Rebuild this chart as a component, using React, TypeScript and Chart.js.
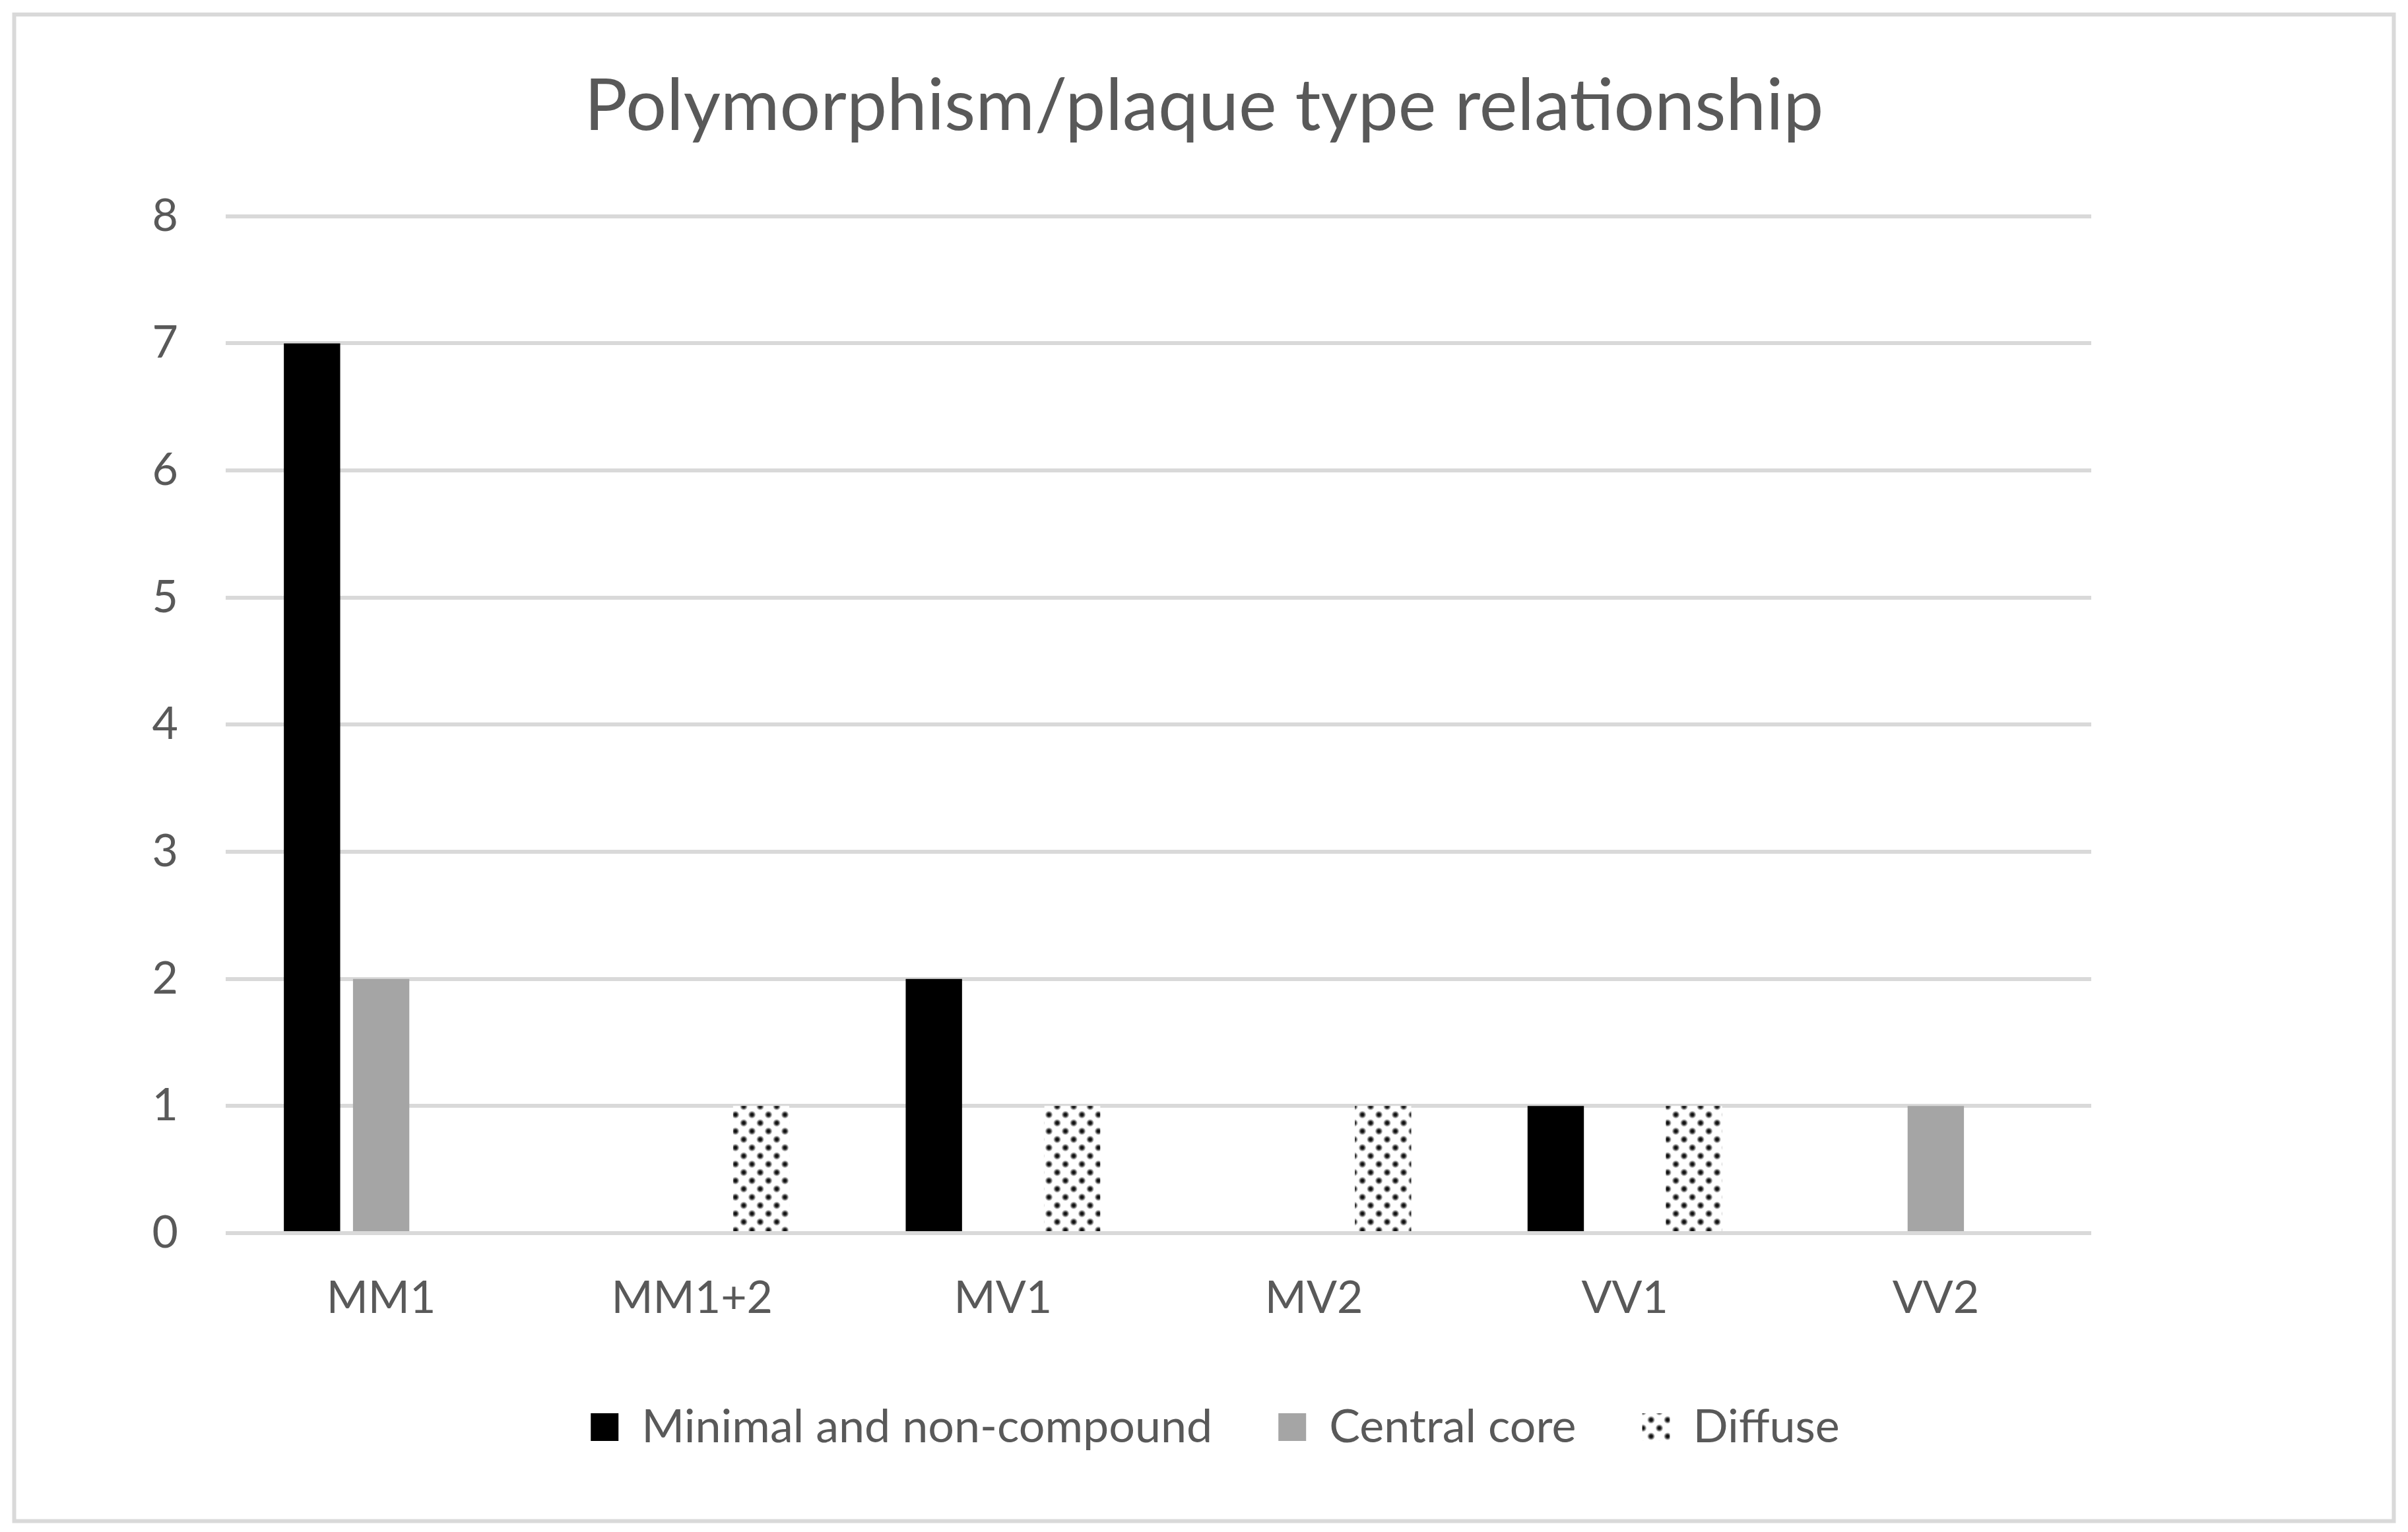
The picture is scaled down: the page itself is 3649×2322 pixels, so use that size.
import React, { useEffect, useRef } from "react";
import { Chart, registerables } from "chart.js";

Chart.register(...registerables);

const titleText = "Polymorphism/plaque type relationship";
const categories = ["MM1", "MM1+2", "MV1", "MV2", "VV1", "VV2"];
const seriesNames = ["Minimal and non-compound", "Central core", "Diffuse"];
const minimalValues = [7, 0, 2, 0, 1, 0];
const centralCoreValues = [2, 0, 0, 0, 0, 1];
const diffuseValues = [0, 1, 1, 1, 1, 0];
const yTickValues = [0, 1, 2, 3, 4, 5, 6, 7, 8];

const TEXT_COLOR = "#595959";
const GRID_COLOR = "#d9d9d9";
const FONT = "Lato, 'Open Sans', sans-serif";

function makeDotPattern(ctx: CanvasRenderingContext2D) {
  const size = 25;
  const c = document.createElement("canvas");
  c.width = size;
  c.height = size;
  const g = c.getContext("2d")!;
  g.fillStyle = "#ffffff";
  g.fillRect(0, 0, size, size);
  const dots: [number, number][] = [
    [6.5, 6.5],
    [19, 19],
  ];
  for (const [x, y] of dots) {
    const r = 6.5;
    const grad = g.createRadialGradient(x, y, 0, x, y, r);
    grad.addColorStop(0, "rgba(0,0,0,1)");
    grad.addColorStop(0.4, "rgba(20,20,20,0.9)");
    grad.addColorStop(0.75, "rgba(90,90,90,0.45)");
    grad.addColorStop(1, "rgba(255,255,255,0)");
    g.fillStyle = grad;
    g.beginPath();
    g.arc(x, y, r, 0, Math.PI * 2);
    g.fill();
  }
  return ctx.createPattern(c, "repeat")!;
}

const frameBorder = {
  id: "frameBorder",
  afterLayout(chart: any) {
    if (chart.legend) {
      chart.legend.left += 17;
      chart.legend.right += 17;
    }
  },
  beforeDraw(chart: any) {
    const ctx = chart.ctx;
    ctx.save();
    ctx.fillStyle = "#ffffff";
    ctx.fillRect(0, 0, chart.width, chart.height);
    ctx.restore();
  },
  afterDraw(chart: any) {
    const ctx = chart.ctx;
    ctx.save();
    ctx.strokeStyle = GRID_COLOR;
    ctx.lineWidth = 6;
    ctx.strokeRect(13.5, 14, 3606, 2283.5);
    ctx.restore();
  },
};

export default function App() {
  const ref = useRef<HTMLCanvasElement | null>(null);

  useEffect(() => {
    const canvas = ref.current!;
    const ctx = canvas.getContext("2d")!;
    const pattern = makeDotPattern(ctx);

    const chart = new Chart(ctx, {
      type: "bar",
      data: {
        labels: categories,
        datasets: [
          {
            label: seriesNames[0],
            data: minimalValues,
            backgroundColor: "#000000",
            borderWidth: 0,
          },
          {
            label: seriesNames[1],
            data: centralCoreValues,
            backgroundColor: "#a5a5a5",
            borderWidth: 0,
          },
          {
            label: seriesNames[2],
            data: diffuseValues,
            backgroundColor: pattern as any,
            borderWidth: 0,
          },
        ],
      },
      options: {
        animation: false,
        responsive: false,
        devicePixelRatio: 1,
        events: [],
        layout: { padding: { left: 0, right: 0, top: 0, bottom: 106 } },
        datasets: {
          bar: { categoryPercentage: 0.667, barPercentage: 0.815 },
        },
        plugins: {
          tooltip: { enabled: false },
          title: {
            display: true,
            text: titleText,
            color: TEXT_COLOR,
            font: { family: FONT, size: 109, weight: "normal", lineHeight: 1.2 },
            padding: { top: 88, bottom: 101 },
          },
          legend: {
            display: true,
            position: "bottom",
            align: "center",
            labels: {
              color: TEXT_COLOR,
              font: { family: FONT, size: 70, lineHeight: 1.2 },
              boxWidth: 42,
              boxHeight: 42,
              padding: 100,
            },
          },
        },
        scales: {
          x: {
            grid: { display: false },
            border: { display: false },
            ticks: {
              color: TEXT_COLOR,
              font: { family: FONT, size: 68, lineHeight: 1.2 },
              padding: 50,
              maxRotation: 0,
            },
            afterFit: (s: any) => {
              s.height = 159;
            },
          },
          y: {
            min: 0,
            max: 8,
            grid: { color: GRID_COLOR, lineWidth: 6, drawTicks: false },
            border: { display: false },
            ticks: {
              color: TEXT_COLOR,
              font: { family: FONT, size: 68, lineHeight: 1.2 },
              padding: 72,
            },
            afterBuildTicks: (s: any) => {
              s.ticks = yTickValues.map((v) => ({ value: v }));
            },
            afterFit: (s: any) => {
              s.width = 334;
            },
          },
          yRight: {
            type: "linear",
            position: "right",
            display: true,
            grid: { display: false },
            border: { display: false },
            ticks: { display: false },
            afterFit: (s: any) => {
              s.width = 472;
            },
          },
        },
      } as any,
      plugins: [frameBorder],
    });

    return () => chart.destroy();
  }, []);

  return (
    <div style={{ width: 3633, height: 2306 }}>
      <canvas ref={ref} width={3633} height={2306} style={{ display: "block" }} />
    </div>
  );
}
